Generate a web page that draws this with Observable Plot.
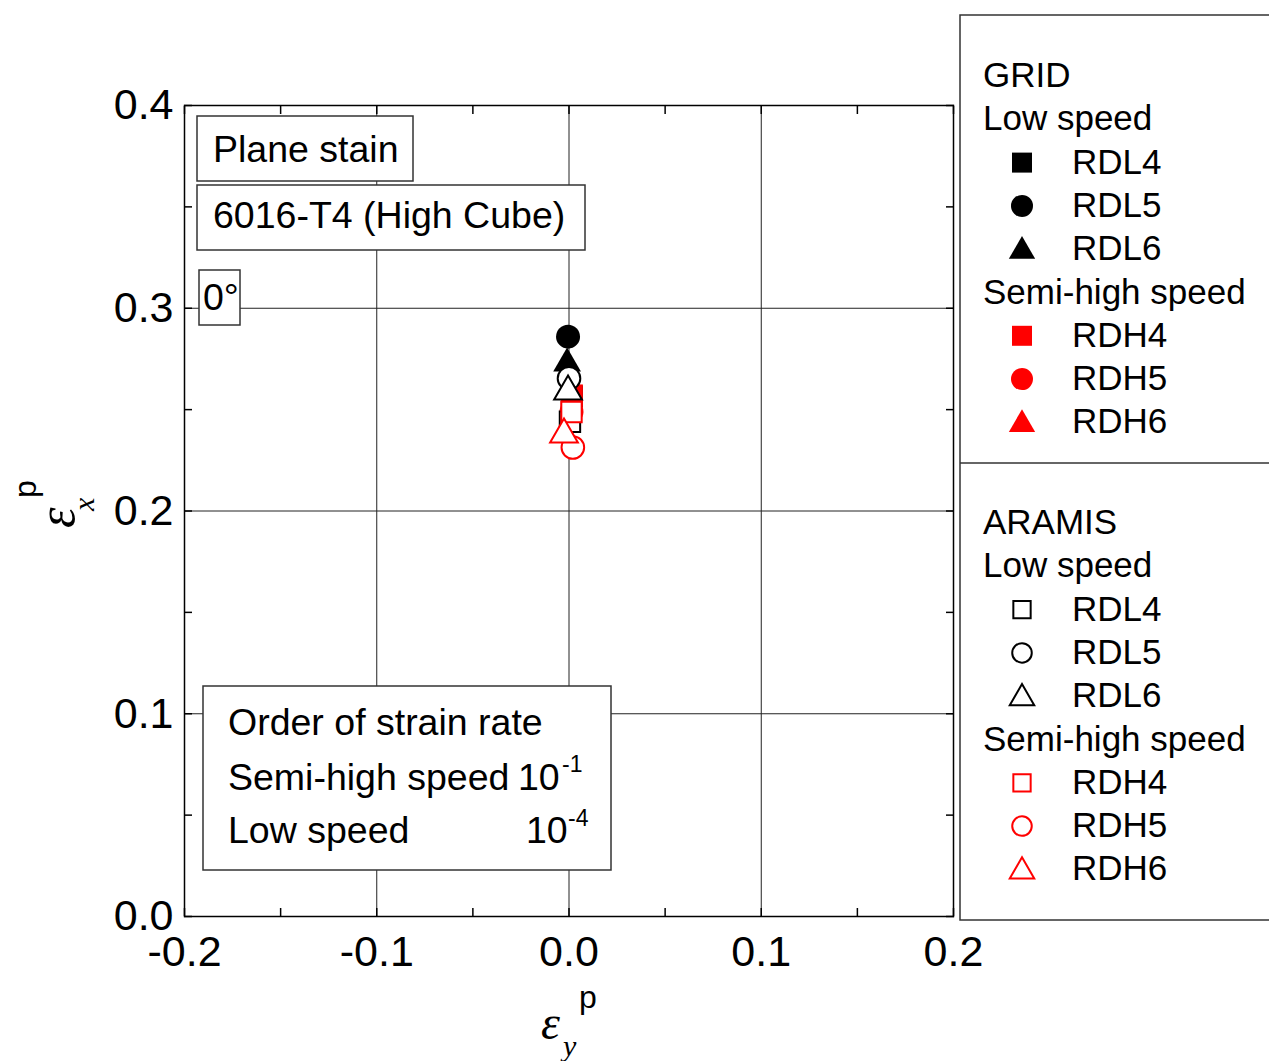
<!DOCTYPE html>
<html>
<head>
<meta charset="utf-8">
<script src="https://cdn.jsdelivr.net/npm/d3@7"></script>
<script src="https://cdn.jsdelivr.net/npm/@observablehq/plot@0.6"></script>
<style>
  body { margin: 0; background: white; }
  #chart { position: relative; width: 1269px; height: 1061px; }
</style>
</head>
<body>
<div id="chart"></div>
<script>
// ---- data (strain values) ----
const seriesNames = ["RDL4", "RDL5", "RDL6", "RDH4", "RDH5", "RDH6"];
const seriesSymbols = ["square", "circle", "triangle", "square", "circle", "triangle"];
const seriesColors = ["black", "black", "black", "red", "red", "red"];
// GRID (filled markers): [epsilon_y, epsilon_x]
const gridRDL4 = [[0.0015, 0.2565]];
const gridRDL5 = [[-0.0005, 0.2860]];
const gridRDL6 = [[-0.0010, 0.2727]];
const gridRDH4 = [[0.0015, 0.2570]];
const gridRDH5 = [[0.0013, 0.2490]];
const gridRDH6 = [[-0.0005, 0.2590]];
// ARAMIS (open markers)
const aramisRDL4 = [[0.0005, 0.2440]];
const aramisRDL5 = [[0.0000, 0.2654]];
const aramisRDL6 = [[-0.0005, 0.2589]];
const aramisRDH4 = [[0.0013, 0.2488]];
const aramisRDH5 = [[0.0020, 0.2313]];
const aramisRDH6 = [[-0.0026, 0.2377]];

const xTicks = [-0.2, -0.1, 0.0, 0.1, 0.2];
const yTicks = [0.0, 0.1, 0.2, 0.3, 0.4];
const xMinor = [-0.15, -0.05, 0.05, 0.15];
const yMinor = [0.05, 0.15, 0.25, 0.35];
const xGrid = [-0.1, 0.0, 0.1];
const yGrid = [0.1, 0.2, 0.3];

const gridSeries = [gridRDL4, gridRDL5, gridRDL6, gridRDH4, gridRDH5, gridRDH6];
const aramisSeries = [aramisRDL4, aramisRDL5, aramisRDL6, aramisRDH4, aramisRDH5, aramisRDH6];

const annoPlane = "Plane stain";
const annoMaterial = "6016-T4 (High Cube)";
const annoAngle = "0°";
const rateTitle = "Order of strain rate";
const rateRows = [["Semi-high speed", "-1"], ["Low speed", "-4"]];
const legendGroups = ["GRID", "ARAMIS"];
const speedLabels = ["Low speed", "Semi-high speed"];

// ---- build ----
const FONT = "'Liberation Sans', Arial, sans-serif";
const SERIF = "'Liberation Serif', 'Times New Roman', serif";
const symbolR = {square: 12.4, circle: 12, triangle: 10.3};
const openR = {square: 11.5, circle: 11.3, triangle: 10.3};

const dotMarks = [];
gridSeries.forEach((s, i) => {
  dotMarks.push(Plot.dot(s, {x: d => d[0], y: d => d[1], symbol: seriesSymbols[i],
    r: symbolR[seriesSymbols[i]], fill: seriesColors[i], stroke: "none"}));
});
aramisSeries.forEach((s, i) => {
  dotMarks.push(Plot.dot(s, {x: d => d[0], y: d => d[1], symbol: seriesSymbols[i],
    r: openR[seriesSymbols[i]], fill: "white", stroke: seriesColors[i], strokeWidth: 2}));
});

const fmt = d => d.toFixed(1);
const allXTicks = xTicks.concat(xMinor);
const allYTicks = yTicks.concat(yMinor);

const svg = Plot.plot({
  width: 1269, height: 1061,
  marginLeft: 184, marginRight: 316, marginTop: 105, marginBottom: 145,
  x: {domain: [-0.2, 0.2]},
  y: {domain: [0, 0.4]},
  style: {fontFamily: FONT, fontSize: "44px", color: "black", background: "white", overflow: "visible"},
  marks: [
    Plot.gridX(xGrid, {stroke: "#222", strokeOpacity: 1, strokeWidth: 1}),
    Plot.gridY(yGrid, {stroke: "#222", strokeOpacity: 1, strokeWidth: 1}),
    Plot.axisX(xTicks, {anchor: "bottom", tickSize: 0, tickPadding: 19, tickFormat: fmt, label: null, fontSize: 43}),
    Plot.axisY(yTicks, {anchor: "left", tickSize: 0, tickPadding: 11, tickFormat: fmt, label: null, fontSize: 43}),
    Plot.axisX(allXTicks, {anchor: "bottom", tickSize: -8, tickFormat: () => "", label: null, strokeWidth: 1.5}),
    Plot.axisX(allXTicks, {anchor: "top", tickSize: -8, tickFormat: () => "", label: null, strokeWidth: 1.5}),
    Plot.axisY(allYTicks, {anchor: "left", tickSize: -8, tickFormat: () => "", label: null, strokeWidth: 1.5}),
    Plot.axisY(allYTicks, {anchor: "right", tickSize: -8, tickFormat: () => "", label: null, strokeWidth: 1.5}),
    ...dotMarks,
    Plot.frame({stroke: "black", strokeWidth: 1.5})
  ]
});

const root = d3.select(svg);
const g = root.append("g").attr("font-family", FONT).attr("fill", "black")
  .attr("text-anchor", "start").style("text-anchor", "start");

// annotation boxes
function box(x, y, w, h) {
  g.append("rect").attr("x", x).attr("y", y).attr("width", w).attr("height", h)
    .attr("fill", "white").attr("stroke", "#333").attr("stroke-width", 1.5);
}
function text(x, y, s, size) {
  return g.append("text").attr("x", x).attr("y", y).attr("font-size", size)
    .attr("text-anchor", "start").text(s);
}
box(197, 116, 216, 65);
text(213, 162, annoPlane, 37.5);
box(197, 185, 388, 65);
text(213, 228, annoMaterial, 37.5);
box(199, 270, 41, 55);
text(203, 310, annoAngle, 37.5);

box(203, 686, 408, 184);
text(228, 735, rateTitle, 37.5);
text(228, 790, rateRows[0][0], 37.5);
text(518, 790, "10", 37.5);
text(562, 772, rateRows[0][1], 23);
text(228, 843, rateRows[1][0], 37.5);
text(526, 843, "10", 37.5);
text(568, 826, rateRows[1][1], 23);

// axis labels (epsilon with sub/superscripts)
const xl = g.append("g").attr("transform", "translate(541,1039)");
xl.append("text").attr("font-family", SERIF).attr("font-style", "italic").attr("font-size", 48).attr("text-anchor", "start").text("ε");
xl.append("text").attr("x", 38).attr("y", -31).attr("font-size", 32).attr("text-anchor", "start").text("p");
xl.append("text").attr("x", 22).attr("y", 17).attr("font-family", SERIF).attr("font-style", "italic").attr("font-size", 30).attr("text-anchor", "start").text("y");

const yl = g.append("g").attr("transform", "translate(74,528) rotate(-90)");
yl.append("text").attr("font-family", SERIF).attr("font-style", "italic").attr("font-size", 52).attr("text-anchor", "start").text("ε");
yl.append("text").attr("x", 30).attr("y", -38).attr("font-size", 32).attr("text-anchor", "start").text("p");
yl.append("text").attr("x", 17).attr("y", 20).attr("font-family", SERIF).attr("font-style", "italic").attr("font-size", 30).attr("text-anchor", "start").text("x");

// legend panel
g.append("rect").attr("x", 960).attr("y", 15).attr("width", 330).attr("height", 905)
  .attr("fill", "white").attr("stroke", "#333").attr("stroke-width", 1.5);
g.append("line").attr("x1", 960).attr("x2", 1290).attr("y1", 463).attr("y2", 463)
  .attr("stroke", "#333").attr("stroke-width", 1.5);

const rowH = 43.3;
legendGroups.forEach((grp, gi) => {
  const base = 87 + gi * 447;
  const filled = gi === 0;
  text(983, base, grp, 35);
  let row = 1;
  [0, 1].forEach(sp => {
    text(983, base + row * rowH, speedLabels[sp], 35);
    row++;
    for (let k = 0; k < 3; k++) {
      const idx = sp * 3 + k;
      const y = base + row * rowH;
      const sym = seriesSymbols[idx];
      const size = filled
        ? {square: 400, circle: 380, triangle: 300}[sym]
        : {square: 300, circle: 300, triangle: 260}[sym];
      const sType = sym === "square" ? d3.symbolSquare : sym === "circle" ? d3.symbolCircle : d3.symbolTriangle;
      g.append("path").attr("d", d3.symbol(sType, size)())
        .attr("transform", `translate(1022,${y - 11 + (sym === "triangle" ? 2 : 0)})`)
        .attr("fill", filled ? seriesColors[idx] : "white")
        .attr("stroke", filled ? "none" : seriesColors[idx])
        .attr("stroke-width", 2);
      text(1072, y, seriesNames[idx], 35);
      row++;
    }
  });
});

document.getElementById("chart").appendChild(svg);
</script>
</body>
</html>
